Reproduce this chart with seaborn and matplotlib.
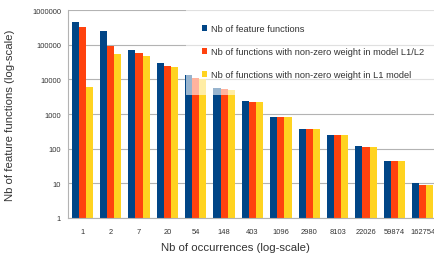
import matplotlib
matplotlib.use("Agg")
import matplotlib.pyplot as plt
import matplotlib.ticker as mticker
import seaborn as sns
import pandas as pd

occurrences = ["1", "2", "7", "20", "54", "148", "403", "1096", "2980",
               "8103", "22026", "59874", "162754"]
nb_feature = [440000, 243000, 69000, 29500, 13000, 5700, 2300, 830, 380,
              250, 117, 44, 10]
nb_l1l2 = [330000, 91000, 57000, 24500, 11000, 5200, 2250, 810, 375,
           245, 112, 44, 9]
nb_l1 = [5900, 54000, 46000, 23000, 10200, 4900, 2200, 800, 375,
         245, 112, 44, 9]
series_names = ["Nb of feature functions",
                "Nb of functions with non-zero weight in model L1/L2",
                "Nb of functions with non-zero weight in L1 model"]
colors = ["#004586", "#ff420e", "#ffd320"]
y_ticks = [1, 10, 100, 1000, 10000, 100000, 1000000]

rows = []
for name, vals in zip(series_names, [nb_feature, nb_l1l2, nb_l1]):
    for occ, v in zip(occurrences, vals):
        rows.append({"occ": occ, "count": v, "series": name})
df = pd.DataFrame(rows)

sns.set_style("white")
plt.rcParams["font.family"] = ["Liberation Sans", "DejaVu Sans"]

fig = plt.figure(figsize=(4.35, 2.55), dpi=100)
ax = fig.add_axes([68 / 435, 36 / 255, 369 / 435, 208 / 255])

sns.barplot(data=df, x="occ", y="count", hue="series", order=occurrences,
            hue_order=series_names, palette=colors, width=0.75,
            saturation=1, ax=ax, zorder=2, linewidth=0)

ax.set_yscale("log")
ax.set_ylim(1, 1000000)
ax.set_xlim(-0.5, len(occurrences) - 0.5)
ax.yaxis.set_major_locator(mticker.FixedLocator(y_ticks))
ax.yaxis.set_major_formatter(mticker.FuncFormatter(lambda v, p: f"{int(round(v))}"))
ax.yaxis.set_minor_locator(mticker.NullLocator())
ax.yaxis.grid(True, color="#b3b3b3", linewidth=0.8, zorder=0)
ax.set_axisbelow(True)

ax.xaxis.set_minor_locator(mticker.FixedLocator([i - 0.5 for i in range(len(occurrences) + 1)]))
ax.tick_params(axis="x", which="major", length=0, labelsize=5.4, colors="#333333", pad=7)
ax.tick_params(axis="x", which="minor", length=3, color="#b3b3b3", width=0.8)
ax.tick_params(axis="y", which="major", length=3, color="#b3b3b3", width=0.8,
               labelsize=5.4, labelcolor="#333333", pad=2)

for s in ["top", "right"]:
    ax.spines[s].set_visible(False)
for s in ["left", "bottom"]:
    ax.spines[s].set_color("#b3b3b3")
    ax.spines[s].set_linewidth(0.8)

ax.set_xlabel("Nb of occurrences (log-scale)", fontsize=8.2, color="#333333")
ax.set_ylabel("Nb of feature functions (log-scale)", fontsize=8.2, color="#333333")
ax.xaxis.set_label_coords(0.455, -0.115)
ax.yaxis.set_label_coords(-0.1436, 0.5)

handles, labels = ax.get_legend_handles_labels()
leg = ax.legend(handles, labels, loc="upper left",
                bbox_to_anchor=(186 / 435, 246 / 255),
                bbox_transform=fig.transFigure, fontsize=6.7,
                frameon=True, fancybox=False, framealpha=0.6,
                facecolor="white", edgecolor="none", borderaxespad=0,
                borderpad=1.75, labelspacing=1.5, handlelength=0.5,
                handleheight=0.5, handletextpad=0.45)
for t in leg.get_texts():
    t.set_color("#333333")
leg.set_zorder(5)

fig.savefig("out.png", dpi=100)
